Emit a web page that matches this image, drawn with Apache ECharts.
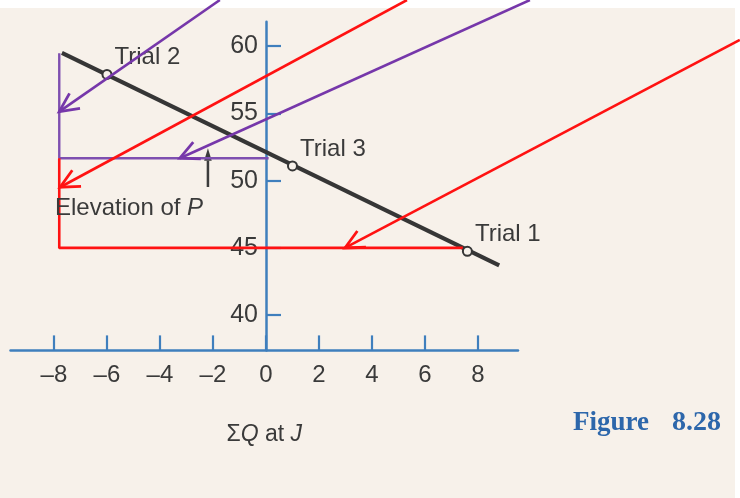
<!DOCTYPE html>
<html>
<head>
<meta charset="utf-8">
<script src="https://cdn.jsdelivr.net/npm/echarts@6/dist/echarts.min.js"></script>
<style>
html,body{margin:0;padding:0;background:#ffffff;}
#chart{width:740px;height:498px;}
</style>
</head>
<body>
<div id="chart"></div>
<script>
// ---- data (values in chart units) ----
const xTicks = [-8, -6, -4, -2, 0, 2, 4, 6, 8];
const xTickLabels = ['\u20138', '\u20136', '\u20134', '\u20132', '0', '2', '4', '6', '8'];
const yTicks = [40, 45, 50, 55, 60];
const yTickLabels = ['40', '45', '50', '55', '60'];

const trialNames = ['Trial 2', 'Trial 3', 'Trial 1'];
const trialX = [-6.0, 1.0, 7.6];
const trialY = [57.9, 51.1, 44.75];

const curveX = [-7.7, 8.8];
const curveY = [59.5, 43.7];

// hand-drawn annotation arrows: [fromX, fromY, tipX, tipY]
const purpleArrows = [
  [-1.74, 63.43, -7.8, 55.13],
  [9.96, 63.43, -3.25, 51.67]
];
const redArrows = [
  [5.32, 63.43, -7.77, 49.51],
  [17.88, 60.46, 2.98, 45.0]
];
// construction lines
const purplePathX = [-7.8, -7.8, 0.1];
const purplePathY = [59.47, 51.67, 51.67];
const redPathX = [-7.8, -7.8, 7.43];
const redPathY = [51.67, 45.0, 45.0];
// "Elevation of P" pointer: [fromX, fromY, tipX, tipY]
const pointerArrow = [[-2.19, 49.53, -2.19, 52.41]];

const xRange = [-9.64, 9.51];
const yRange = [37.38, 61.82];

// ---- styles ----
const BG = '#f7f1ea';
const AXIS = '#3f7fbd';
const INK = '#3a3a3a';
const RED = '#ff1212';
const PURPLE = '#7637aa';
const FONT = '"Liberation Sans", Arial, Helvetica, sans-serif';

const GRID_LEFT = 10.5, GRID_WIDTH = 507.5;
// y axis drawn at x = 0 of the value axis
const Y_AXIS_OFFSET = -(GRID_WIDTH * (0 - xRange[0]) / (xRange[1] - xRange[0]));

function zip(xs, ys) { return xs.map((x, i) => [x, ys[i]]); }

function arrowRender(color, filled) {
  return function (params, api) {
    const p0 = api.coord([api.value(0), api.value(1)]);
    const p1 = api.coord([api.value(2), api.value(3)]);
    const ang = Math.atan2(p0[1] - p1[1], p0[0] - p1[0]);
    const L = filled ? 13 : 21;
    const half = (filled ? 17 : 26) * Math.PI / 180;
    const w1 = [p1[0] + L * Math.cos(ang + half), p1[1] + L * Math.sin(ang + half)];
    const w2 = [p1[0] + L * Math.cos(ang - half), p1[1] + L * Math.sin(ang - half)];
    const children = [{
      type: 'line',
      shape: { x1: p0[0], y1: p0[1], x2: filled ? (w1[0] + w2[0]) / 2 : p1[0], y2: filled ? (w1[1] + w2[1]) / 2 : p1[1] },
      style: { stroke: color, lineWidth: filled ? 2.5 : 2.6, lineCap: 'butt' }
    }];
    if (filled) {
      children.push({ type: 'polygon', shape: { points: [w1, p1, w2] }, style: { fill: color, stroke: null } });
    } else {
      children.push({ type: 'polyline', shape: { points: [w1, p1, w2] }, style: { stroke: color, lineWidth: 2.8, fill: null, lineJoin: 'miter' } });
    }
    return { type: 'group', children: children };
  };
}

const chart = echarts.init(document.getElementById('chart'), null, { renderer: 'canvas' });

const option = {
  backgroundColor: BG,
  animation: false,
  textStyle: { fontFamily: FONT },
  grid: {
    left: GRID_LEFT, top: 21.7, width: GRID_WIDTH, height: 328.7,
    containLabel: false, outerBoundsMode: 'none'
  },
  xAxis: {
    type: 'value', min: xRange[0], max: xRange[1],
    splitLine: { show: false },
    axisLine: { onZero: false, lineStyle: { color: AXIS, width: 2.5 } },
    axisTick: { show: true, inside: true, length: 15, customValues: xTicks, lineStyle: { color: AXIS, width: 2.2 } },
    axisLabel: {
      customValues: xTicks, margin: 13, color: INK, fontSize: 24, fontFamily: FONT,
      formatter: v => xTickLabels[xTicks.indexOf(Math.round(v))]
    },
    name: '{n|\u03a3}{i|Q}{n| at }{i|J}',
    nameLocation: 'middle', nameGap: 72,
    nameTextStyle: {
      rich: {
        n: { fontSize: 23, color: INK, fontFamily: FONT, lineHeight: 24 },
        i: { fontSize: 23, color: INK, fontFamily: FONT, fontStyle: 'italic', lineHeight: 24 }
      }
    }
  },
  yAxis: {
    type: 'value', min: yRange[0], max: yRange[1],
    position: 'left', offset: Y_AXIS_OFFSET,
    splitLine: { show: false },
    axisLine: { onZero: false, lineStyle: { color: AXIS, width: 2.5 } },
    axisTick: { show: true, inside: true, length: 15, customValues: yTicks, lineStyle: { color: AXIS, width: 2.2 } },
    axisLabel: {
      customValues: yTicks, margin: 8, color: INK, fontSize: 25, fontFamily: FONT,
      padding: [6, 0, 0, 0],
      formatter: v => yTickLabels[yTicks.indexOf(Math.round(v))]
    }
  },
  graphic: [
    { type: 'rect', left: 0, top: 0, shape: { width: 740, height: 8 }, style: { fill: '#ffffff' }, z: -1, silent: true },
    { type: 'rect', left: 735, top: 0, shape: { width: 5, height: 498 }, style: { fill: '#ffffff' }, z: -1, silent: true },
    {
      type: 'text', left: 55, top: 196, z: 5,
      style: {
        text: '{n|Elevation of }{i|P}',
        rich: {
          n: { fontSize: 24, fill: INK, fontFamily: FONT },
          i: { fontSize: 24, fill: INK, fontFamily: FONT, fontStyle: 'italic' }
        }
      }
    },
    {
      type: 'text', left: 573, top: 410, z: 5,
      style: { text: 'Figure', font: 'bold 27px "Liberation Serif", "Times New Roman", serif', fill: '#2d67ab' }
    },
    {
      type: 'text', left: 672, top: 409, z: 5,
      style: { text: '8.28', font: 'bold 28px "Liberation Serif", "Times New Roman", serif', fill: '#2d67ab' }
    }
  ],
  series: [
    {
      type: 'line', data: zip(curveX, curveY), symbol: 'none', clip: false, z: 3,
      lineStyle: { color: '#363636', width: 4.2 }
    },
    {
      type: 'custom', data: pointerArrow, clip: false, z: 3,
      renderItem: arrowRender('#3c3c3c', true)
    },
    {
      type: 'line', data: zip(purplePathX, purplePathY), symbol: 'none', clip: false, z: 4,
      lineStyle: { color: '#7e4fb0', width: 2.4 }
    },
    {
      type: 'line', data: zip(redPathX, redPathY), symbol: 'none', clip: false, z: 4,
      lineStyle: { color: RED, width: 2.6 }
    },
    {
      type: 'scatter', z: 5,
      data: trialX.map((x, i) => ({ value: [x, trialY[i]], name: trialNames[i] })),
      symbol: 'circle', symbolSize: 9,
      itemStyle: { color: BG, borderColor: '#363636', borderWidth: 2, opacity: 1 },
      label: {
        show: true, position: 'right', offset: [-3, -17], opacity: 1,
        formatter: p => p.name, color: INK, fontSize: 24, fontFamily: FONT
      }
    },
    {
      type: 'custom', data: purpleArrows, clip: false, z: 6,
      renderItem: arrowRender(PURPLE, false)
    },
    {
      type: 'custom', data: redArrows, clip: false, z: 6,
      renderItem: arrowRender(RED, false)
    }
  ]
};
chart.setOption(option);
</script>
</body>
</html>
